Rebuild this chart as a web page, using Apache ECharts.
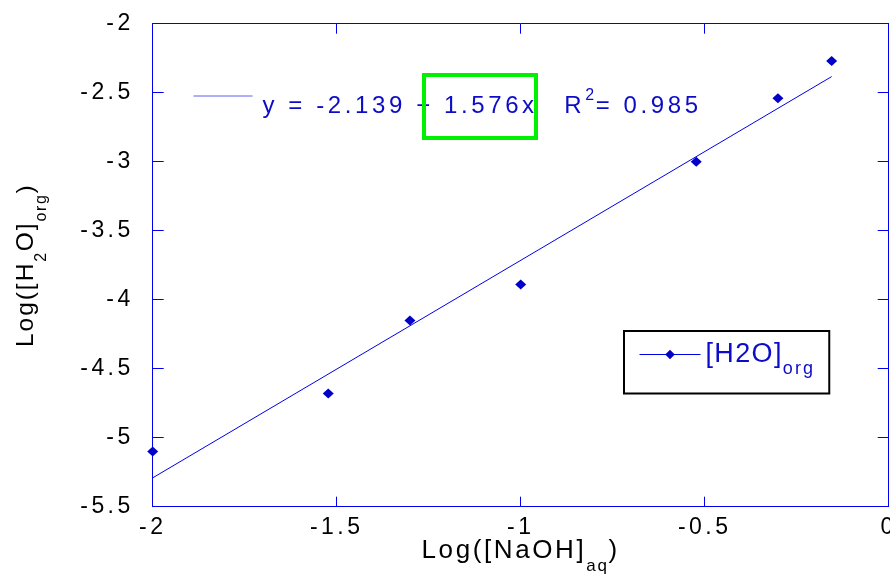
<!DOCTYPE html>
<html>
<head>
<meta charset="utf-8">
<script src="https://cdn.jsdelivr.net/npm/echarts@6/dist/echarts.min.js"></script>
<style>
  html, body { margin: 0; padding: 0; background: #fff; overflow: hidden; }
  #chart { width: 890px; height: 582px; }
</style>
</head>
<body>
<div id="chart"></div>
<script>
// log10 of the NaOH concentrations (0.01, 0.03, 0.05, 0.1, 0.3, 0.5, 0.7 M)
const logNaOH = [-2, -1.523, -1.301, -1, -0.523, -0.301, -0.155];
// log10 of the water content found in the organic phase
const logH2O = [-5.10, -4.68, -4.15, -3.89, -3.00, -2.54, -2.27];

// least-squares line reported on the chart
const fitIntercept = -2.139;
const fitSlope = 1.576;
const fitR2 = 0.985;

// axis tick values
const xTickValues = [-2, -1.5, -1, -0.5, 0];
const yTickValues = [-5.5, -5, -4.5, -4, -3.5, -3, -2.5, -2];

const FONT = 'Liberation Sans';
const AXIS_BLUE = '#0000ee';
const MARK_BLUE = '#0000c8';
const FIT_BLUE = '#0000e6';
const TEXT_BLUE = '#0c0cc8';

// font sizes of the different texts
const SIZE_TICK = 23, SIZE_EQ = 24, SIZE_YTITLE = 24.5, SIZE_XTITLE = 26, SIZE_LEGEND = 27;

// tracked lettering: extra space after each character, in em, per font size
const SPACING_EM = { 23: 0.15, 24: 0.15, 24.5: 0.08, 26: 0.1, 27: 0.05, 18: 0.12 };
const DEFAULT_SPACING_EM = 0.1;
function fontSizeOf(font) {
  const m = /(\d+(?:\.\d+)?)px/.exec(font || '');
  return m ? parseFloat(m[1]) : 12;
}
function spacingFor(size) {
  const em = SPACING_EM[size] !== undefined ? SPACING_EM[size] : DEFAULT_SPACING_EM;
  return em * size;
}

const proto = window.CanvasRenderingContext2D && CanvasRenderingContext2D.prototype;
if (proto && ('letterSpacing' in proto) && typeof echarts.setPlatformAPI === 'function') {
  ['fillText', 'strokeText'].forEach(fn => {
    const orig = proto[fn];
    proto[fn] = function (text, x, y, maxWidth) {
      this.letterSpacing = spacingFor(fontSizeOf(this.font)) + 'px';
      return maxWidth === undefined ? orig.call(this, text, x, y) : orig.call(this, text, x, y, maxWidth);
    };
  });
  const mctx = document.createElement('canvas').getContext('2d');
  echarts.setPlatformAPI({
    measureText(text, font) {
      mctx.font = font || '12px sans-serif';
      const w = mctx.measureText(text).width;
      if (text === '国') return { width: w };
      return { width: w + Array.from(text).length * spacingFor(fontSizeOf(font)) };
    }
  });
}

const xMin = xTickValues[0], xMax = xTickValues[xTickValues.length - 1];
const xStep = xTickValues[1] - xTickValues[0];
const yMin = yTickValues[0], yMax = yTickValues[yTickValues.length - 1];
const yStep = yTickValues[1] - yTickValues[0];

const points = logNaOH.map((x, i) => [x, logH2O[i]]);
const fitEnds = [logNaOH[0], logNaOH[logNaOH.length - 1]];
const fitLine = fitEnds.map(x => [x, fitIntercept + fitSlope * x]);

const SUB_PAD = 30;

function axisCommon(min, max, step, tickLen) {
  return {
    type: 'value', min, max, interval: step,
    axisLine: { show: true, onZero: false, lineStyle: { color: AXIS_BLUE, width: 1 } },
    axisTick: { show: true, inside: true, length: tickLen, lineStyle: { color: AXIS_BLUE, width: 1 } },
    splitLine: { show: false },
    nameMoveOverlap: false
  };
}

const bottomAxis = Object.assign(axisCommon(xMin, xMax, xStep, 10), {
  position: 'bottom',
  axisLabel: { show: true, margin: 9, color: '#000', fontSize: SIZE_TICK, fontFamily: FONT },
  name: 'Log([NaOH]{sub|aq})',
  nameLocation: 'middle',
  nameGap: 21,
  nameTextStyle: {
    color: '#000', fontSize: SIZE_XTITLE, fontFamily: FONT,
    rich: { sub: { color: '#000', fontSize: 17, fontFamily: FONT, padding: [SUB_PAD, 0, 0, 0] } }
  }
});
const topAxis = Object.assign(axisCommon(xMin, xMax, xStep, 10), {
  position: 'top', axisLabel: { show: false }
});
const leftAxis = Object.assign(axisCommon(yMin, yMax, yStep, 11), {
  position: 'left',
  axisLabel: { show: true, margin: 19, color: '#000', fontSize: SIZE_TICK, fontFamily: FONT },
  name: 'Log([H{sub|2}O]{sub|org})',
  nameLocation: 'middle',
  nameGap: 103,
  nameTextStyle: {
    color: '#000', fontSize: SIZE_YTITLE, fontFamily: FONT,
    rich: { sub: { color: '#000', fontSize: 16, fontFamily: FONT, padding: [SUB_PAD, 0, 0, 0] } }
  }
});
const rightAxis = Object.assign(axisCommon(yMin, yMax, yStep, 11), {
  position: 'right', axisLabel: { show: false }
});

const fitName = 'Linear fit';
const dataName = '[H2O]org';
const equationText = 'y = ' + fitIntercept + ' + ' + fitSlope + 'x  {r|R}{sup|2}= ' + fitR2;

const option = {
  animation: false,
  backgroundColor: '#ffffff',
  textStyle: { fontFamily: FONT },
  grid: { left: 152.7, top: 23.7, width: 736, height: 483, containLabel: false, outerBoundsMode: 'none' },
  xAxis: [bottomAxis, topAxis],
  yAxis: [leftAxis, rightAxis],
  legend: [
    {
      data: [fitName],
      selectedMode: false,
      left: 193, top: 87.5,
      padding: 0,
      itemWidth: 59, itemHeight: 10,
      itemStyle: { opacity: 0 },
      lineStyle: { color: '#5c5cf2', width: 1, opacity: 1 },
      formatter: () => equationText,
      textStyle: {
        color: TEXT_BLUE, fontSize: SIZE_EQ, fontFamily: FONT,
        padding: [21, 0, 0, 5],
        rich: {
          r: { color: TEXT_BLUE, fontSize: SIZE_EQ, fontFamily: FONT, padding: [0, 0, 0, 6] },
          sup: { color: TEXT_BLUE, fontSize: 16, fontFamily: FONT, padding: [0, 0, 22, 0] }
        }
      }
    },
    {
      data: [dataName],
      selectedMode: false,
      left: 624, top: 331,
      padding: [10, 14, 15, 15],
      borderColor: '#000', borderWidth: 2, backgroundColor: '#fff',
      itemWidth: 61, itemHeight: 12,
      lineStyle: { color: FIT_BLUE, width: 1, opacity: 1 },
      formatter: () => '[H2O]{sub|org}',
      textStyle: {
        color: TEXT_BLUE, fontSize: SIZE_LEGEND, fontFamily: FONT,
        rich: { sub: { color: TEXT_BLUE, fontSize: 18, fontFamily: FONT, padding: [SUB_PAD, 0, 0, 0] } }
      }
    }
  ],
  series: [
    {
      name: fitName,
      type: 'line',
      data: fitLine,
      symbol: 'none',
      silent: true,
      lineStyle: { color: FIT_BLUE, width: 1 },
      itemStyle: { color: FIT_BLUE },
      z: 2
    },
    {
      name: dataName,
      type: 'line',
      data: points,
      symbol: 'diamond',
      symbolSize: [11, 10],
      showSymbol: true,
      silent: true,
      lineStyle: { width: 0, opacity: 0 },
      itemStyle: { color: MARK_BLUE },
      z: 3
    }
  ],
  graphic: [
    {
      type: 'rect',
      z: 100,
      silent: true,
      shape: { x: 424, y: 75, width: 112, height: 63 },
      style: { fill: 'none', stroke: '#00f000', lineWidth: 4 }
    }
  ]
};

const chart = echarts.init(document.getElementById('chart'), null, { renderer: 'canvas' });
chart.setOption(option);
</script>
</body>
</html>
